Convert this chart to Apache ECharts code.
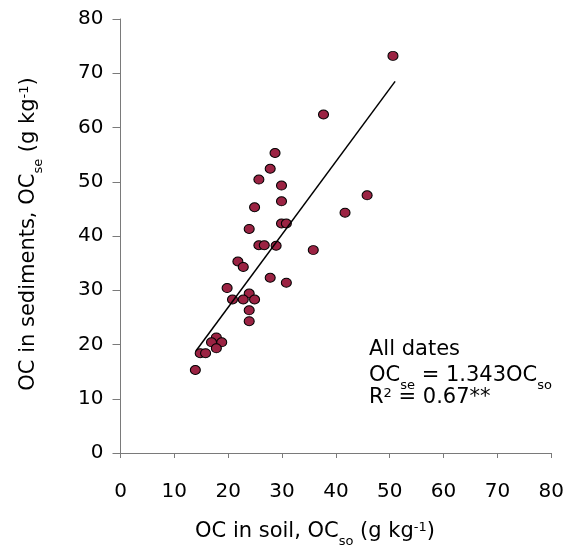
<!DOCTYPE html>
<html>
<head>
<meta charset="utf-8">
<script src="https://cdn.jsdelivr.net/npm/echarts@6/dist/echarts.min.js"></script>
<style>
html,body{margin:0;padding:0;background:#fff;}
#chart{width:567px;height:547px;}
</style>
</head>
<body>
<div id="chart"></div>
<script>
// OC in soil (x) and OC in sediments (y), g/kg
var soilOC = [28.7, 27.8, 25.7, 29.9, 29.9, 24.9, 29.9, 30.8, 23.9, 25.7, 26.7, 28.9, 35.8,
  21.8, 22.8, 27.8, 30.8, 19.8, 23.9, 20.8, 22.8, 24.9, 23.9, 23.9, 50.6, 37.7, 45.8, 41.7,
  17.8, 16.9, 18.8, 17.8, 14.8, 15.8, 13.9];
var sedimentOC = [55.3, 52.4, 50.4, 49.3, 46.4, 45.3, 42.3, 42.3, 41.3, 38.3, 38.3, 38.2, 37.4,
  35.3, 34.3, 32.3, 31.4, 30.4, 29.4, 28.3, 28.3, 28.3, 26.3, 24.3, 73.2, 62.4, 47.5, 44.3,
  21.3, 20.4, 20.4, 19.3, 18.4, 18.4, 15.3];
// fitted line OCse = 1.343 OCso, endpoints
var fitX = [14.0, 51.0];
var fitY = [18.8, 68.5];
var xTicks = [0, 10, 20, 30, 40, 50, 60, 70, 80];
var yTicks = [0, 10, 20, 30, 40, 50, 60, 70, 80];

var FONT = "'DejaVu Sans', Verdana, sans-serif";
var pts = soilOC.map(function (x, i) { return [x, sedimentOC[i]]; });
var fit = fitX.map(function (x, i) { return [x, fitY[i]]; });

var rich = {
  m: { fontSize: 21, fontFamily: FONT, color: '#000', padding: [0, 0, 6, 0], verticalAlign: 'bottom' },
  sub: { fontSize: 13, fontFamily: FONT, color: '#000', verticalAlign: 'bottom' },
  sup: { fontSize: 13, fontFamily: FONT, color: '#000', verticalAlign: 'top' }
};

var chart = echarts.init(document.getElementById('chart'), null, { renderer: 'canvas' });
chart.setOption({
  animation: false,
  grid: { left: 120.5, right: 12.7, top: 19, bottom: 94, containLabel: false },
  xAxis: {
    type: 'value', min: 0, max: 80, interval: 10,
    axisLine: { show: true, onZero: false, lineStyle: { color: '#7a7a7a', width: 1 } },
    axisTick: { show: true, length: 5, lineStyle: { color: '#7a7a7a' } },
    splitLine: { show: false },
    axisLabel: { fontSize: 20, fontFamily: FONT, color: '#000', margin: 29,
      formatter: function (v) { return xTicks.indexOf(v) >= 0 ? String(v) : ''; } }
  },
  yAxis: {
    type: 'value', min: 0, max: 80, interval: 10,
    axisLine: { show: true, onZero: false, lineStyle: { color: '#7a7a7a', width: 1 } },
    axisTick: { show: true, length: 8, lineStyle: { color: '#7a7a7a' } },
    splitLine: { show: false },
    axisLabel: { fontSize: 20, fontFamily: FONT, color: '#000', margin: 17,
      formatter: function (v) { return yTicks.indexOf(v) >= 0 ? String(v) : ''; } }
  },
  series: [
    {
      type: 'scatter', data: pts, symbol: 'circle', symbolSize: [10, 9], z: 2,
      itemStyle: { color: '#9b2343', borderColor: '#000', borderWidth: 1, opacity: 1 }
    },
    {
      type: 'line', data: fit, symbol: 'none', z: 3,
      lineStyle: { color: '#000', width: 1.5 }
    }
  ],
  graphic: [
    { type: 'text', x: 315, y: 539 - 18, z: 10,
      style: { text: '{m|OC in soil, OC}{sub|so}{m| (g kg}{sup|-1}{m|)}', rich: rich, align: 'center', verticalAlign: 'top' } },
    { type: 'text', x: 32, y: 234, rotation: Math.PI / 2, z: 10,
      style: { text: '{m|OC in sediments, OC}{sub|se}{m| (g kg}{sup|-1}{m|)}', rich: rich, align: 'center', verticalAlign: 'middle' } },
    { type: 'text', x: 369, y: 357 - 18, z: 10,
      style: { text: '{m|All dates}', rich: rich, align: 'left', verticalAlign: 'top' } },
    { type: 'text', x: 369, y: 383 - 18, z: 10,
      style: { text: '{m|OC}{sub|se}{m| = 1.343OC}{sub|so}', rich: rich, align: 'left', verticalAlign: 'top' } },
    { type: 'text', x: 369, y: 405 - 18, z: 10,
      style: { text: '{m|R}{sup|2}{m| = 0.67**}', rich: rich, align: 'left', verticalAlign: 'top' } }
  ]
});
</script>
</body>
</html>
